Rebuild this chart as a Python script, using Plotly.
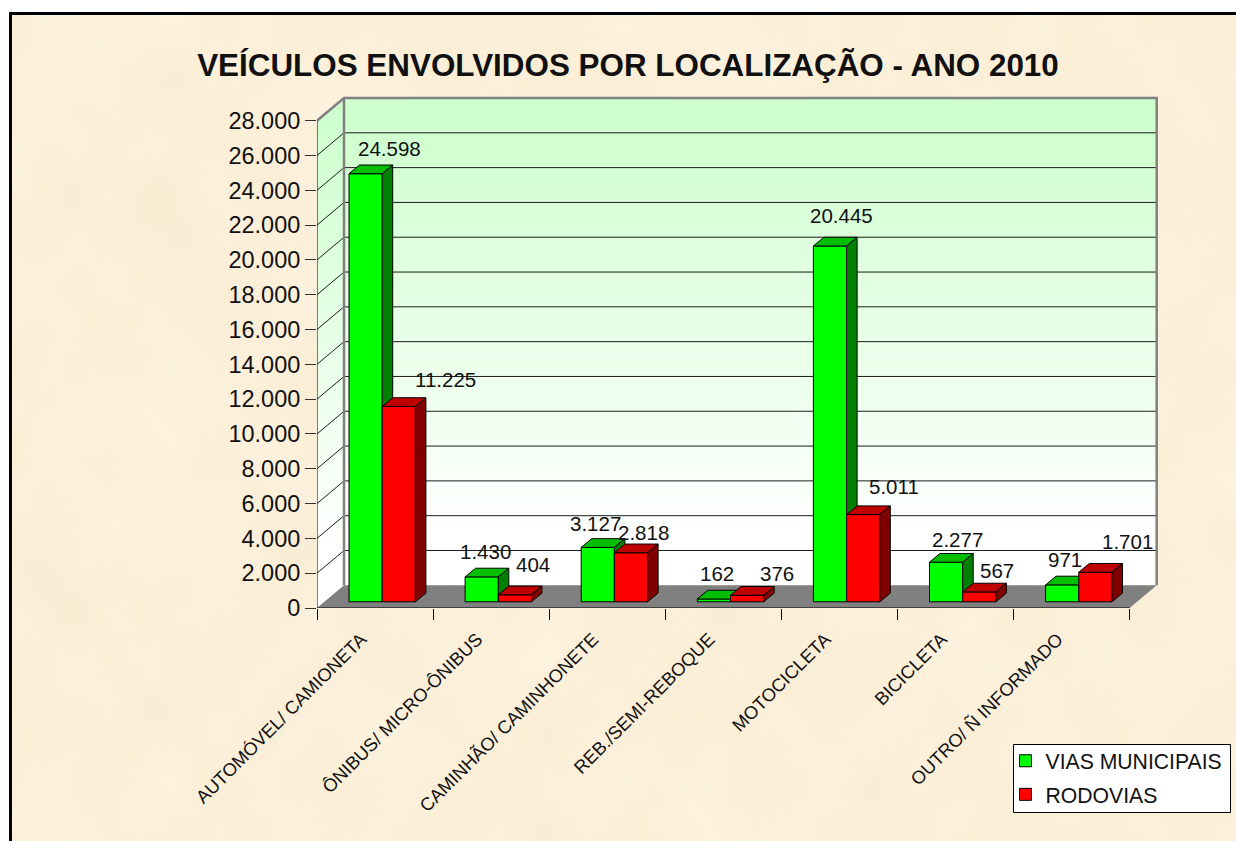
import base64, struct, zlib
import numpy as np
import plotly.graph_objects as go

# ---- data ----
categories = ["AUTOMÓVEL/ CAMIONETA", "ÔNIBUS/ MICRO-ÔNIBUS", "CAMINHÃO/ CAMINHONETE",
              "REB./SEMI-REBOQUE", "MOTOCICLETA", "BICICLETA", "OUTRO/ Ñ INFORMADO"]
vias_municipais = [24598, 1430, 3127, 162, 20445, 2277, 971]
rodovias = [11225, 404, 2818, 376, 5011, 567, 1701]
y_ticks = list(range(0, 28001, 2000))
title = "VEÍCULOS ENVOLVIDOS POR LOCALIZAÇÃO - ANO 2010"

# ---- label nudges, in pixels (right, up) from the top centre of each bar ----
green_nudge = [(23.5, 25), (3.4, 25), (-2.7, 23.6), (3.2, 25), (11, 30.5), (11, 22.4), (3, 25)]
red_nudge = [(46.5, 26.8), (18.4, 30), (12.3, 20), (30, 21.5), (31, 28), (18, 21), (32, 31)]

# ---- page geometry ----
W, H = 1236, 841
L, R, T, B = 317, 0, 90, 233
PW, PH = W - L - R, H - T - B
PX_X = 116.1                # pixels per category
PX_Y = 487.3 / 28000        # pixels per unit
xr = [0, PW / PX_X]
yr = [0, PH / PX_Y]
n = len(categories)
TOP = y_ticks[-1]

def cx(px):
    return px / PX_X

def cy(px):
    return px / PX_Y

WALL_DX, WALL_DY = cx(27), cy(22.7)
BAR_DX, BAR_DY = cx(10.5), cy(8.7)
BAR_BASE = cy(6.2)
BAR_W = cx(33.2)
OFF_G, OFF_R = cx(32), cx(32) + BAR_W

def px_paper(x, y):
    return (x - L) / PW, (H - B - y) / PH

# ---- parchment texture (smooth, deterministic mottling) ----
def texture(w=309, h=210):
    yy, xx = np.mgrid[0:h, 0:w].astype(float)
    m = np.zeros((h, w))
    waves = [(0.041, 0.057, 0.3, 1.7, 1.0), (0.071, 0.033, 1.7, 0.4, 0.9), (0.113, 0.129, 2.9, 2.2, 0.8),
             (0.187, 0.151, 0.9, 3.1, 0.8), (0.263, 0.231, 4.1, 1.1, 0.7), (0.347, 0.293, 5.3, 0.6, 0.6),
             (0.053, 0.193, 3.3, 4.4, 0.7), (0.229, 0.061, 2.2, 5.2, 0.7)]
    for fx, fy, p1, p2, a in waves:
        m += a * np.sin(fx * xx + p1) * np.sin(fy * yy + p2)
    m /= np.abs(m).max()
    rgb = np.stack([252 + 2 * m, 240 + 3.5 * m, 218 + 7 * m], axis=-1).clip(0, 255).astype(np.uint8)
    raw = b"".join(b"\x00" + row.tobytes() for row in rgb)
    def chunk(t, d):
        return struct.pack(">I", len(d)) + t + d + struct.pack(">I", zlib.crc32(t + d) & 0xffffffff)
    png = (b"\x89PNG\r\n\x1a\n" + chunk(b"IHDR", struct.pack(">IIBBBBB", w, h, 8, 2, 0, 0, 0))
           + chunk(b"IDAT", zlib.compress(raw, 9)) + chunk(b"IEND", b""))
    return "data:image/png;base64," + base64.b64encode(png).decode()

fig = go.Figure()

# ---- walls and floor on the base axes ----
WALL_SCALE = [[0, "#ffffff"], [0.1, "#ffffff"], [1, "#ccffcc"]]

def poly(xs, ys, color=None, gradient=False, line=None):
    kw = dict(x=xs, y=ys, mode="lines", fill="toself", hoverinfo="skip", showlegend=False,
              line=line or dict(width=0), cliponaxis=False)
    if gradient:
        kw["fillgradient"] = dict(type="vertical", colorscale=WALL_SCALE)
        kw["fillcolor"] = "rgba(0,0,0,0)"
    else:
        kw["fillcolor"] = color
    fig.add_trace(go.Scatter(**kw))

poly([0, WALL_DX, WALL_DX, 0, 0], [0, WALL_DY, TOP + WALL_DY, TOP, 0], gradient=True)
poly([WALL_DX, n + WALL_DX, n + WALL_DX, WALL_DX, WALL_DX],
     [WALL_DY, WALL_DY, TOP + WALL_DY, TOP + WALL_DY, WALL_DY], gradient=True)
poly([0, WALL_DX, n + WALL_DX, n, 0], [0, WALL_DY, WALL_DY, 0, 0], color="#808080")

grid_x, grid_y = [], []
for v in y_ticks[1:-1]:
    grid_x += [0, WALL_DX, n + WALL_DX, None]
    grid_y += [v, v + WALL_DY, v + WALL_DY, None]
fig.add_trace(go.Scatter(x=grid_x, y=grid_y, mode="lines", line=dict(color="#1c1c1c", width=1),
                         hoverinfo="skip", showlegend=False, cliponaxis=False))
# grey frame of the walls
fig.add_trace(go.Scatter(
    x=[0, WALL_DX, n + WALL_DX, n + WALL_DX, None, WALL_DX, WALL_DX],
    y=[TOP, TOP + WALL_DY, TOP + WALL_DY, WALL_DY, None, TOP + WALL_DY, WALL_DY],
    mode="lines", line=dict(color="#808080", width=2.5), hoverinfo="skip", showlegend=False,
    cliponaxis=False))
# front axis lines
fig.add_trace(go.Scatter(x=[0, 0, n], y=[TOP, 0, 0], mode="lines", line=dict(color="#000000", width=1),
                         hoverinfo="skip", showlegend=False, cliponaxis=False))

# ---- bars: each series sits on its own overlaid axes so that later faces cover earlier ones ----
def add_series(name, values, offset, front, top, side, ax):
    xref, yref = f"x{ax}", f"y{ax}"
    outline = dict(color="#000000", width=1)
    fig.add_trace(go.Bar(name=name, x=list(range(n)), y=values, base=BAR_BASE, offset=offset, width=BAR_W,
                         marker=dict(color=front, line=outline), xaxis=xref, yaxis=yref,
                         legendgroup=name, showlegend=True))
    tx, ty, sx, sy = [], [], [], []
    for i, v in enumerate(values):
        x0, x1, y1 = i + offset, i + offset + BAR_W, v + BAR_BASE
        tx += [x0, x0 + BAR_DX, x1 + BAR_DX, x1, x0, None]
        ty += [y1, y1 + BAR_DY, y1 + BAR_DY, y1, y1, None]
        sx += [x1, x1 + BAR_DX, x1 + BAR_DX, x1, x1, None]
        sy += [BAR_BASE, BAR_BASE + BAR_DY, y1 + BAR_DY, y1, BAR_BASE, None]
    for xs, ys, c in ((tx, ty, top), (sx, sy, side)):
        fig.add_trace(go.Scatter(x=xs, y=ys, mode="lines", fill="toself", fillcolor=c, line=outline,
                                 xaxis=xref, yaxis=yref, hoverinfo="skip", showlegend=False,
                                 cliponaxis=False))

add_series("VIAS MUNICIPAIS", vias_municipais, OFF_G, "#00ff00", "#00bf00", "#008000", 2)
add_series("RODOVIAS", rodovias, OFF_R, "#ff0000", "#bf0000", "#800000", 3)

# ---- data labels ----
annotations = []
for values, offset, nudges in ((vias_municipais, OFF_G, green_nudge), (rodovias, OFF_R, red_nudge)):
    for i, (v, (dx, dy)) in enumerate(zip(values, nudges)):
        annotations.append(dict(x=i + offset + BAR_W / 2, y=v + BAR_BASE, xref="x", yref="y",
                                text=f"{v:,}".replace(",", "."), showarrow=False, xshift=dx, yshift=dy,
                                xanchor="center", yanchor="middle",
                                font=dict(size=20.5, color="#111111")))

# ---- page furniture ----
ix0, iy0 = px_paper(10, 13)
ix1, iy1 = px_paper(W, H)
bx0, by0 = px_paper(10.5, 13.5)
bx1, by1 = px_paper(W + 20, H + 20)
box0 = px_paper(1013.5, 744.5)
box1 = px_paper(1230.5, 812.5)
lx, ly = px_paper(1005.5, 740.5)

hidden = dict(visible=False, range=xr, fixedrange=True)
hiddeny = dict(visible=False, range=yr, fixedrange=True)

fig.update_layout(
    width=W, height=H, autosize=False,
    margin=dict(l=L, r=R, t=T, b=B, pad=0),
    paper_bgcolor="#ffffff", plot_bgcolor="rgba(0,0,0,0)",
    font=dict(family="Liberation Sans, Arial, sans-serif", color="#111111"),
    separators=",.",
    barmode="overlay",
    title=dict(text=f"<b>{title}</b>", x=628 / W, xref="container", xanchor="center",
               y=1 - 65.5 / H, yref="container", yanchor="middle",
               font=dict(size=31.4, color="#111111")),
    xaxis=dict(range=xr, showgrid=False, zeroline=False, showline=False, fixedrange=True,
               tickmode="array", tickvals=[i + 0.5 for i in range(n)], ticktext=categories,
               tickangle=-45, ticks="", tickfont=dict(size=18.3),
               ticklabelstandoff=16, ticklabelshift=-14,
               minor=dict(tickmode="linear", tick0=0, dtick=1, ticks="outside", ticklen=11,
                          tickcolor="#000000", tickwidth=1, showgrid=False)),
    yaxis=dict(range=yr, showgrid=False, zeroline=False, showline=False, fixedrange=True,
               tickmode="array", tickvals=y_ticks, tickformat=",.0f", ticks="outside", ticklen=11,
               tickcolor="#333333", tickwidth=1, tickfont=dict(size=23.5)),
    xaxis2=dict(overlaying="x", anchor="y2", **hidden),
    yaxis2=dict(overlaying="y", anchor="x2", **hiddeny),
    xaxis3=dict(overlaying="x", anchor="y3", **hidden),
    yaxis3=dict(overlaying="y", anchor="x3", **hiddeny),
    legend=dict(x=lx, y=ly, xanchor="left", yanchor="top", xref="paper", yref="paper",
                bgcolor="rgba(0,0,0,0)", borderwidth=0,
                font=dict(size=21.2), traceorder="grouped", tracegroupgap=3, itemclick=False,
                itemdoubleclick=False),
    images=[dict(source=texture(), xref="paper", yref="paper", x=ix0, y=iy0,
                 sizex=ix1 - ix0, sizey=iy0 - iy1, sizing="stretch", layer="below",
                 xanchor="left", yanchor="top")],
    shapes=[dict(type="rect", xref="paper", yref="paper", x0=bx0, y0=by0, x1=bx1, y1=by1,
                 line=dict(color="#000000", width=3), fillcolor="rgba(0,0,0,0)", layer="below"),
            dict(type="rect", xref="paper", yref="paper", x0=box0[0], y0=box0[1], x1=box1[0], y1=box1[1],
                 line=dict(color="#000000", width=1), fillcolor="#ffffff", layer="above")],
    annotations=annotations,
)

fig.write_html("out.html", config=dict(displayModeBar=False),
               post_script="document.body.style.margin='0';document.body.style.overflow='hidden';")
